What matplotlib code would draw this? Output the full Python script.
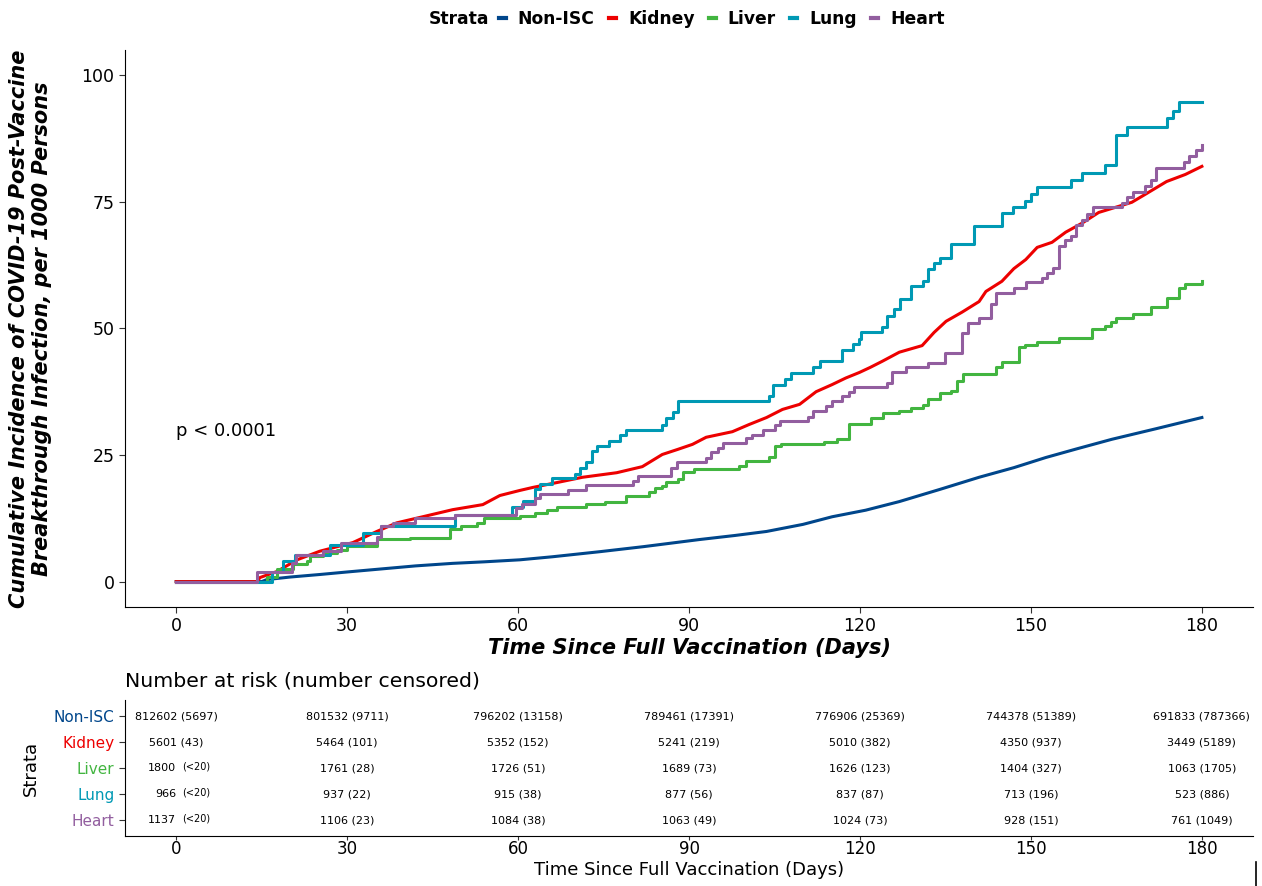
import numpy as np
import matplotlib.pyplot as plt
from matplotlib.lines import Line2D

strata = ['Non-ISC', 'Kidney', 'Liver', 'Lung', 'Heart']
colors = ['#00468B', '#ED0000', '#42B540', '#0099B4', '#925E9F']

# points (day, cumulative incidence per 1000)
nonisc_t = [0, 15, 15.9, 20, 25.2, 30, 37, 42, 48.5, 54, 60.3, 66, 74.3, 82, 91.8, 98, 103.6, 110, 115.1, 121, 126.9, 134, 140.9, 147, 152.6, 158, 164.2, 172, 180]
nonisc_y = [0, 0, 0.4, 0.9, 1.4, 1.9, 2.6, 3.1, 3.6, 3.9, 4.3, 4.9, 5.9, 6.9, 8.3, 9.1, 9.9, 11.3, 12.8, 14.1, 15.8, 18.2, 20.6, 22.5, 24.5, 26.2, 28.1, 30.2, 32.4]

kidney_t = [0, 14.2, 14.7, 17.7, 21.2, 25.2, 31, 35.2, 38.7, 44, 48.5, 53.8, 56.8, 60.3, 62.6, 67, 71.3, 77.3, 81.8, 85.3, 88, 90.6, 93, 97.6, 100.5, 103.6, 106.4, 109.4, 112.3, 115.1, 117.5, 119.9, 121.8, 123.9, 126.9, 130.9, 133, 135.1, 137.9, 140.9, 142.1, 144.9, 147, 149.1, 151.1, 153.7, 156.1, 159, 161.9, 165.4, 167.7, 170.1, 173.8, 177.1, 180]
kidney_y = [0, 0, 0.8, 2.0, 4.3, 6.0, 7.7, 9.9, 11.6, 13.0, 14.2, 15.2, 17.0, 18.0, 18.6, 19.6, 20.6, 21.5, 22.7, 25.1, 26.1, 27.1, 28.5, 29.6, 31.0, 32.4, 34.0, 35.0, 37.5, 38.9, 40.2, 41.3, 42.3, 43.5, 45.3, 46.6, 49.2, 51.4, 53.2, 55.3, 57.3, 59.3, 61.8, 63.6, 66.0, 67.0, 69.0, 70.8, 72.9, 74.1, 74.9, 76.5, 79.0, 80.4, 82.0]

liver_t = [0, 15.9, 17.7, 20.5, 23, 23.5, 25.8, 28.2, 30, 35.2, 41, 48, 50, 52.7, 54.1, 60.3, 62.9, 65, 66.9, 72, 75.2, 79, 83, 84, 85.2, 86, 88, 88.9, 90.9, 98.8, 100, 104.1, 105, 106.2, 113.7, 116, 118, 122, 124, 126.9, 129, 131, 132, 134, 136, 137, 138, 143.9, 145, 147.9, 149, 151, 154.9, 160.7, 163, 164, 165, 167.9, 171, 173.8, 175.9, 177, 180]
liver_y = [0, 1.0, 2.4, 3.4, 4.0, 5.0, 5.7, 6.3, 7.0, 8.5, 8.7, 10.3, 10.9, 11.6, 12.6, 13.0, 13.6, 14.2, 14.8, 15.4, 15.8, 17.0, 17.6, 18.4, 18.8, 19.6, 20.2, 21.7, 22.3, 22.9, 23.9, 24.7, 26.7, 27.1, 27.5, 28.1, 31.2, 32.4, 33.2, 33.6, 34.2, 34.8, 36.0, 37.2, 37.7, 39.7, 40.9, 42.3, 43.3, 46.4, 46.8, 47.4, 48.2, 49.8, 50.4, 51.2, 52.0, 52.8, 54.3, 56.1, 57.9, 58.7, 59.3]

lung_t = [0, 16.8, 18.8, 20.9, 27, 32.8, 36, 49, 59, 60.8, 62.9, 63.8, 65.9, 69.9, 70.8, 72, 72.9, 73.8, 76, 77.8, 78.9, 85.2, 86, 87.1, 88, 104, 104.8, 106.9, 107.9, 111.8, 112.9, 116.9, 118.7, 119.9, 120.2, 123.9, 124.8, 126, 127, 129, 131, 132, 133, 134, 136, 140, 145, 146.9, 149, 150, 151, 157, 159, 163, 164.9, 166.8, 173.8, 175, 176, 180]
lung_y = [0, 1.8, 4.0, 5.3, 7.3, 9.5, 10.9, 13.2, 14.8, 16.0, 18.2, 19.2, 20.4, 21.3, 22.5, 23.7, 25.7, 26.7, 27.7, 28.9, 30.0, 31.0, 32.4, 33.4, 35.6, 36.6, 38.9, 40.1, 41.1, 42.3, 43.5, 45.8, 47.0, 48.0, 49.2, 50.2, 52.4, 53.8, 55.9, 58.3, 59.3, 61.8, 63.0, 64.0, 66.6, 70.2, 72.7, 73.9, 75.1, 76.5, 77.9, 79.3, 80.6, 82.2, 88.1, 89.7, 91.5, 92.9, 94.7, 94.7]

heart_t = [0, 14.2, 20.3, 21, 25.8, 29, 35.2, 36, 38, 41.9, 48.9, 59.7, 60.6, 62.9, 63.8, 68.7, 72, 80.1, 81, 86.9, 87.8, 93, 93.9, 95, 95.9, 100, 101, 103, 105, 105.9, 110.8, 111.7, 114.1, 115, 116.9, 118.1, 119, 124.8, 125.7, 128.1, 132, 135, 137.9, 139, 140.9, 143, 143.9, 147, 149.1, 152, 152.8, 153.9, 154.9, 156, 157, 157.9, 159, 159.8, 160.9, 165.9, 166.8, 167.9, 170, 171, 171.9, 176.8, 177.8, 178.9, 180]
heart_y = [0, 1.8, 3.7, 5.3, 6.1, 7.7, 8.9, 10.9, 11.6, 12.6, 13.2, 14.6, 15.4, 16.6, 17.2, 18.0, 19.0, 19.8, 20.8, 22.5, 23.7, 24.5, 25.5, 26.3, 27.3, 28.3, 28.9, 30.0, 31.0, 31.8, 32.6, 33.6, 34.6, 35.6, 36.6, 37.5, 38.5, 39.3, 41.3, 42.3, 43.1, 45.1, 49.0, 51.0, 52.0, 54.9, 56.9, 57.9, 59.1, 59.9, 60.9, 62.0, 66.2, 67.4, 68.2, 70.4, 71.5, 72.5, 73.9, 74.7, 75.9, 76.9, 78.1, 79.4, 81.6, 82.8, 84.0, 85.2, 86.2]

curves = [(nonisc_t, nonisc_y), (kidney_t, kidney_y), (liver_t, liver_y),
          (lung_t, lung_y), (heart_t, heart_y)]
# the big groups have so many tiny steps that they read as a line
smooth = [True, True, False, False, False]

# number at risk table
risk_days = [0, 30, 60, 90, 120, 150, 180]
risk_nonisc = ['812602 (5697)', '801532 (9711)', '796202 (13158)', '789461 (17391)', '776906 (25369)', '744378 (51389)', '691833 (787366)']
risk_kidney = ['5601 (43)', '5464 (101)', '5352 (152)', '5241 (219)', '5010 (382)', '4350 (937)', '3449 (5189)']
risk_liver = ['1800', '1761 (28)', '1726 (51)', '1689 (73)', '1626 (123)', '1404 (327)', '1063 (1705)']
risk_lung = ['966', '937 (22)', '915 (38)', '877 (56)', '837 (87)', '713 (196)', '523 (886)']
risk_heart = ['1137', '1106 (23)', '1084 (38)', '1063 (49)', '1024 (73)', '928 (151)', '761 (1049)']
risk_rows = [risk_nonisc, risk_kidney, risk_liver, risk_lung, risk_heart]

fig = plt.figure(figsize=(12.62, 8.86), dpi=100)
ax = fig.add_axes([0.099, 0.315, 0.894, 0.6287])

for (t, y), c, name, sm in zip(curves, colors, strata, smooth):
    if sm:
        ax.plot(t, y, color=c, lw=2.2, label=name)
    else:
        ax.step(t, y, where='post', color=c, lw=2.2, label=name)

ax.set_xlim(-9, 189)
ax.set_ylim(-5, 105)
ax.set_xticks(risk_days)
ax.set_yticks([0, 25, 50, 75, 100])
ax.tick_params(labelsize=12.5, length=4, color='#333333')
for s in ['top', 'right']:
    ax.spines[s].set_visible(False)
ax.set_xlabel('Time Since Full Vaccination (Days)', fontsize=15,
              fontweight='bold', fontstyle='italic', labelpad=2)
ax.set_ylabel('Cumulative Incidence of COVID-19 Post-Vaccine\nBreakthrough Infection, per 1000 Persons',
              fontsize=15, fontweight='bold', fontstyle='italic', labelpad=21)
ax.text(0, 29.8, 'p < 0.0001', fontsize=13, va='center', ha='left')

# legend on top
handles = [Line2D([], [], color=c, lw=3) for c in colors]
leg = fig.legend(handles, strata, loc='center', bbox_to_anchor=(0.572, 0.9786),
                 ncol=5, frameon=False, handlelength=0.4, handletextpad=0.7,
                 columnspacing=0.85, prop={'weight': 'bold', 'size': 12.3})
fig.text(0.388, 0.9786, 'Strata', fontsize=12.3, fontweight='bold', ha='right', va='center')

# risk table
tab = fig.add_axes([0.099, 0.0564, 0.894, 0.1535])
tab.set_xlim(-9, 189)
tab.set_ylim(0.385, 5.615)
for i, row in enumerate(risk_rows):
    ypos = 5 - i
    for d, s in zip(risk_days, row):
        if d == 0 and '(' not in s:
            tab.text(d, ypos, s, ha='right', va='center', fontsize=8)
            tab.text(d + 1.1, ypos + 0.05, '(<20)', ha='left', va='center', fontsize=7)
        else:
            tab.text(d, ypos, s, ha='center', va='center', fontsize=8)
tab.set_yticks([5, 4, 3, 2, 1])
tab.set_yticklabels(strata, fontsize=11)
for lab, c in zip(tab.get_yticklabels(), colors):
    lab.set_color(c)
tab.set_xticks(risk_days)
tab.tick_params(axis='x', labelsize=12, length=3, pad=0, color='#333333')
tab.tick_params(axis='y', length=4, color='#333333')
for s in ['top', 'right']:
    tab.spines[s].set_visible(False)
tab.set_ylabel('Strata', fontsize=13, labelpad=10)
tab.set_xlabel('Time Since Full Vaccination (Days)', fontsize=13, labelpad=2)
tab.set_title('Number at risk (number censored)', loc='left', fontsize=14.7, pad=10)

# small stray stroke at the lower right edge of the original
fig.add_artist(Line2D([1256 / 1262] * 2, [0, 24 / 886], color='black', lw=1.2))

fig.savefig('out.png', dpi=100)
